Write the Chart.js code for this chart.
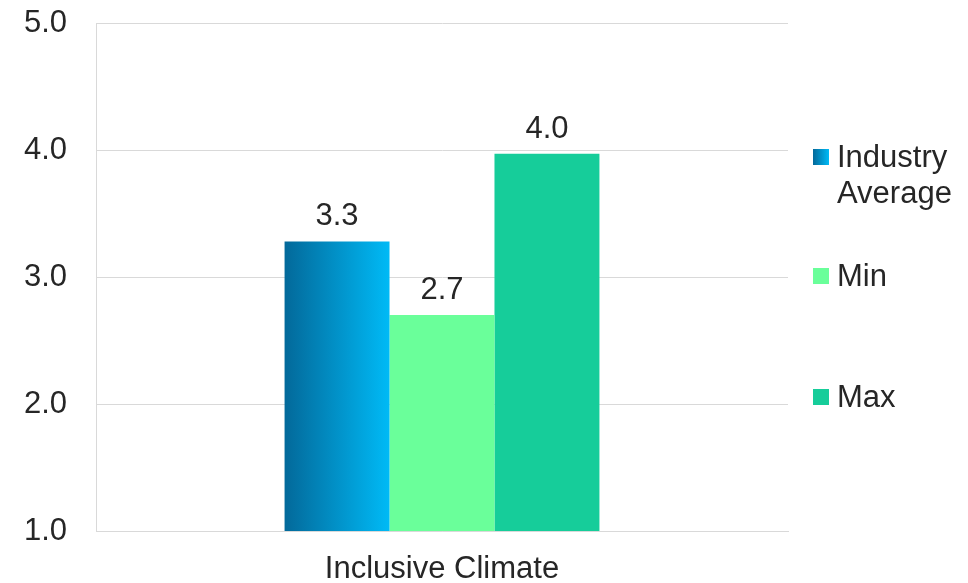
<!DOCTYPE html>
<html>
<head>
<meta charset="utf-8">
<script src="https://cdn.jsdelivr.net/npm/chart.js@4/dist/chart.umd.min.js"></script>
<style>
  html, body { margin: 0; padding: 0; background: #fff; }
  #wrap { position: relative; width: 968px; height: 583px; }
  #chart { display: block; }
  #legend { position: absolute; left: 813px; top: 0; font-family: "Liberation Sans", Arial, sans-serif; font-size: 31px; color: #262626; }
  .item { position: absolute; left: 0; white-space: nowrap; }
  .sw { position: absolute; left: 0; top: 10px; width: 16px; height: 16px; }
  .txt { position: absolute; left: 24px; top: 0; line-height: 36px; }
</style>
</head>
<body>
<div id="wrap">
  <canvas id="chart" width="968" height="583"></canvas>
  <div id="legend"></div>
</div>
<script>
// ------------------------------
// data
// ------------------------------
const categories = ["Inclusive Climate"];
const seriesNames = ["Industry Average", "Min", "Max"];
const industryAvg = [3.28];
const minValues = [2.7];
const maxValues = [3.97];
const yTicks = [1, 2, 3, 4, 5];

const textColor = "#262626";
const minColor = "#6aff9a";
const maxColor = "#16cd9a";
const avgFrom = "#03699a";
const avgTo = "#00baf6";
const fontFamily = '"Liberation Sans", Arial, sans-serif';

// horizontal gradient across the "Industry Average" bar
const gradientBar = {
    id: "gradientBar",
    beforeDatasetsDraw(chart) {
        const meta = chart.getDatasetMeta(0);
        meta.data.forEach(bar => {
            const left = bar.x - bar.width / 2;
            const g = chart.ctx.createLinearGradient(left, 0, left + bar.width, 0);
            g.addColorStop(0, avgFrom);
            g.addColorStop(1, avgTo);
            bar.options.backgroundColor = g;
        });
    }
};

// value labels on top of each bar
const valueLabels = {
    id: "valueLabels",
    afterDatasetsDraw(chart) {
        const ctx = chart.ctx;
        ctx.save();
        ctx.font = "31px " + fontFamily;
        ctx.fillStyle = textColor;
        ctx.textAlign = "center";
        ctx.textBaseline = "alphabetic";
        chart.data.datasets.forEach((ds, i) => {
            chart.getDatasetMeta(i).data.forEach((bar, j) => {
                ctx.fillText(ds.data[j].toFixed(1), bar.x, bar.y - 16);
            });
        });
        ctx.restore();
    }
};

new Chart(document.getElementById("chart"), {
    type: "bar",
    data: {
        labels: categories,
        datasets: [
            { label: seriesNames[0], data: industryAvg, backgroundColor: avgTo },
            { label: seriesNames[1], data: minValues, backgroundColor: minColor },
            { label: seriesNames[2], data: maxValues, backgroundColor: maxColor }
        ]
    },
    options: {
        responsive: false,
        animation: false,
        datasets: { bar: { categoryPercentage: 0.455, barPercentage: 1 } },
        layout: { padding: { top: 23, right: 180, left: 0, bottom: 0 } },
        plugins: { legend: { display: false }, tooltip: { enabled: false } },
        scales: {
            x: {
                grid: { display: false },
                border: { color: "#d9d9d9" },
                afterFit: scale => { scale.height = 52; scale.paddingLeft = 0; scale.paddingRight = 0; },
                ticks: {
                    color: textColor,
                    padding: 12,
                    font: { family: fontFamily, size: 31 }
                }
            },
            y: {
                min: 1,
                max: 5,
                afterBuildTicks: scale => { scale.ticks = yTicks.map(v => ({ value: v })); },
                grid: { color: "#d9d9d9", drawTicks: false },
                border: { color: "#d9d9d9" },
                afterFit: scale => { scale.width = 96; scale.paddingTop = 0; scale.paddingBottom = 0; },
                ticks: {
                    color: textColor,
                    padding: 29,
                    callback: v => v.toFixed(1),
                    font: { family: fontFamily, size: 31 }
                }
            }
        }
    },
    plugins: [gradientBar, valueLabels]
});

// legend on the right
const legendTops = [139, 258, 379];
const legendColors = [`linear-gradient(to right, ${avgFrom}, ${avgTo})`, minColor, maxColor];
const legendText = ["Industry<br>Average", "Min", "Max"];
const legend = document.getElementById("legend");
seriesNames.forEach((name, i) => {
    legend.insertAdjacentHTML("beforeend", `
        <div class="item" style="top:${legendTops[i]}px">
            <div class="sw" style="background:${legendColors[i]}"></div>
            <div class="txt">${legendText[i]}</div>
        </div>
    `);
});
</script>
</body>
</html>
